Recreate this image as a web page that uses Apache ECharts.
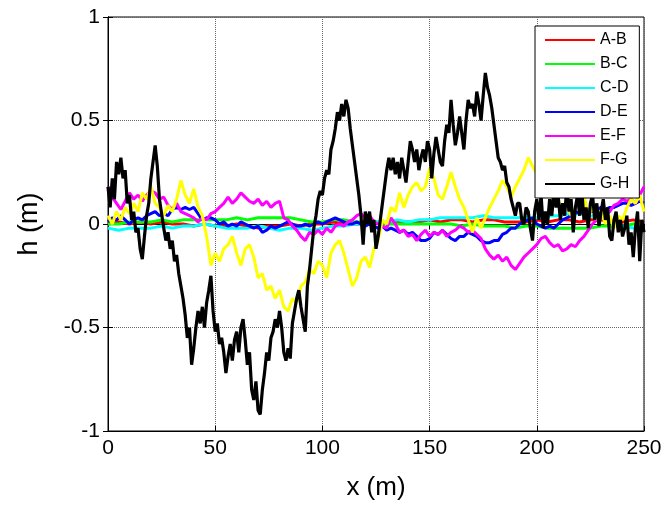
<!DOCTYPE html>
<html>
<head>
<meta charset="utf-8">
<script src="https://cdn.jsdelivr.net/npm/echarts@6/dist/echarts.min.js"></script>
<style>
  html, body { margin: 0; padding: 0; background: #fff; }
  #chart { width: 669px; height: 506px; }
</style>
</head>
<body>
<div id="chart"></div>
<script>
// profile names and colours, in the order they are plotted
var names = ['A-B', 'B-C', 'C-D', 'D-E', 'E-F', 'F-G', 'G-H'];
var colors = ['#ff0000', '#00ff00', '#00ffff', '#0000ff', '#ff00ff', '#ffff00', '#000000'];

// h (m) sampled every 5 m
var hAB = [0.00,0.01,0.00,0.01,0.00,0.01,0.00,0.00,-0.01,0.00,-0.01,-0.01,0.00,-0.01,-0.02,-0.01,-0.01,0.00,-0.01,0.00,
  0.00,0.01,0.00,0.00,0.00,0.01,0.00,0.01,0.01,0.01,0.02,0.01,0.02,0.02,0.01,0.02,0.02,0.01,0.01,0.01,
  0.02,0.01,0.02,0.02,0.01,0.02,0.02,0.01,0.01,0.02,0.01];
var hBC = [0.00,0.00,0.01,0.01,0.01,0.02,0.01,0.02,0.02,0.02,0.02,0.02,0.03,0.02,0.03,0.03,0.03,0.03,0.02,0.01,
  0.01,0.02,0.02,0.01,0.01,0.01,0.00,0.00,0.00,0.00,0.00,0.00,0.00,-0.01,0.00,-0.01,-0.01,-0.01,-0.02,-0.01,
  -0.01,-0.02,-0.02,-0.02,-0.02,-0.02,-0.01,-0.01,-0.01,0.00,0.00];
var hCD = [-0.02,-0.03,-0.02,-0.02,-0.02,-0.01,-0.02,-0.01,-0.01,0.00,-0.01,-0.02,-0.02,-0.02,-0.01,-0.02,-0.03,-0.02,-0.02,-0.03,
  -0.02,-0.01,-0.01,0.00,0.00,0.01,0.01,0.02,0.01,0.02,0.02,0.03,0.03,0.03,0.03,0.04,0.03,0.03,0.03,0.03,
  0.03,0.04,0.04,0.05,0.05,0.04,0.03,0.01,-0.01,-0.02,-0.01];

// h (m) sampled every 2 m
var hDE = [0.01,0.03,0.02,0.04,0.02,0.00,0.02,0.03,0.02,0.04,0.05,0.06,0.04,0.05,0.04,0.07,0.08,0.07,0.08,0.07,
  0.08,0.05,0.02,0.03,0.03,0.02,0.00,0.01,-0.01,0.00,-0.01,0.01,0.00,-0.01,-0.02,-0.01,-0.04,-0.03,-0.01,-0.02,
  -0.01,0.00,0.01,0.00,-0.01,-0.01,0.00,-0.01,0.00,0.01,0.00,0.01,0.02,0.03,0.02,0.01,0.00,0.00,0.01,0.00,
  -0.01,0.00,-0.01,-0.02,-0.01,-0.03,-0.02,-0.03,-0.04,-0.03,-0.05,-0.04,-0.06,-0.08,-0.08,-0.07,-0.04,-0.05,-0.03,-0.05,
  -0.07,-0.08,-0.06,-0.06,-0.04,-0.05,-0.06,-0.08,-0.09,-0.09,-0.08,-0.08,-0.05,-0.04,-0.02,-0.02,0.00,0.01,0.02,0.03,
  0.00,-0.01,-0.02,-0.01,-0.02,0.00,0.02,0.03,0.04,0.06,0.05,0.06,0.07,0.06,0.07,0.08,0.07,0.08,0.08,0.09,
  0.10,0.10,0.09,0.10,0.11,0.10];
var hEF = [0.18,0.13,0.10,0.07,0.11,0.15,0.12,0.14,0.11,0.14,0.16,0.15,0.12,0.13,0.09,0.07,0.10,0.06,0.05,0.04,
  0.03,0.01,0.03,0.02,0.05,0.06,0.08,0.10,0.13,0.10,0.12,0.15,0.13,0.11,0.10,0.12,0.09,0.11,0.08,0.10,
  0.11,0.03,0.02,-0.01,-0.03,-0.06,-0.08,-0.04,-0.05,-0.03,-0.05,-0.02,-0.04,-0.01,0.00,-0.01,0.01,0.02,0.04,0.05,
  0.03,0.04,0.01,0.00,-0.01,-0.02,0.03,0.00,-0.04,-0.03,-0.06,-0.05,-0.08,-0.05,-0.03,-0.06,-0.04,-0.05,-0.03,-0.06,
  -0.04,-0.03,-0.01,-0.02,-0.04,-0.03,-0.05,-0.07,-0.12,-0.15,-0.17,-0.15,-0.18,-0.16,-0.20,-0.22,-0.19,-0.16,-0.14,-0.12,
  -0.10,-0.07,-0.06,-0.09,-0.11,-0.10,-0.13,-0.12,-0.10,-0.11,-0.08,-0.06,-0.03,0.00,0.02,0.03,0.05,0.06,0.09,0.10,
  0.12,0.11,0.12,0.10,0.14,0.18];
var hFG = [0.04,0.00,0.06,0.02,0.08,0.05,0.10,0.06,0.15,0.12,0.18,0.10,0.08,0.04,0.09,0.06,0.12,0.21,0.14,0.10,
  0.17,0.08,0.04,-0.06,-0.20,-0.14,-0.18,-0.12,-0.10,-0.06,-0.14,-0.20,-0.12,-0.10,-0.16,-0.26,-0.24,-0.32,-0.30,-0.36,
  -0.32,-0.40,-0.42,-0.36,-0.38,-0.30,-0.28,-0.22,-0.24,-0.18,-0.20,-0.26,-0.14,-0.10,-0.08,-0.14,-0.22,-0.30,-0.26,-0.18,
  -0.16,-0.21,-0.12,-0.08,0.02,0.00,0.08,0.06,0.15,0.08,0.14,0.18,0.20,0.16,0.18,0.27,0.22,0.14,0.12,0.18,
  0.25,0.18,0.12,0.08,0.02,-0.04,0.03,-0.02,0.03,0.08,0.12,0.16,0.21,0.18,0.13,0.18,0.22,0.26,0.32,0.28,
  0.24,0.20,0.14,0.16,0.10,0.12,0.06,0.10,0.04,0.08,0.12,0.14,0.04,0.08,0.02,0.06,0.00,0.04,-0.02,0.04,
  0.02,0.08,0.12,0.10,0.14,0.06];

// h (m) sampled every 1 m
var hGH = [0.18,0.08,0.22,0.12,0.30,0.24,0.32,0.22,0.26,0.10,
  0.14,0.02,0.06,-0.04,-0.02,-0.12,-0.17,-0.06,0.04,0.10,
  0.22,0.30,0.38,0.28,0.12,0.05,-0.02,-0.08,-0.04,-0.12,
  -0.08,-0.18,-0.15,-0.24,-0.30,-0.36,-0.44,-0.55,-0.50,-0.68,
  -0.60,-0.50,-0.42,-0.48,-0.40,-0.50,-0.38,-0.32,-0.25,-0.42,
  -0.52,-0.48,-0.58,-0.55,-0.62,-0.72,-0.64,-0.58,-0.66,-0.56,
  -0.52,-0.62,-0.50,-0.46,-0.56,-0.68,-0.62,-0.80,-0.85,-0.76,
  -0.90,-0.92,-0.80,-0.72,-0.62,-0.66,-0.55,-0.52,-0.46,-0.50,
  -0.42,-0.50,-0.62,-0.66,-0.60,-0.65,-0.48,-0.42,-0.36,-0.32,
  -0.40,-0.46,-0.52,-0.30,-0.22,-0.12,-0.02,0.04,0.12,0.16,
  0.14,0.22,0.26,0.24,0.36,0.40,0.46,0.54,0.50,0.58,
  0.52,0.60,0.56,0.46,0.38,0.30,0.22,0.14,0.04,-0.10,
  0.06,0.00,0.06,-0.04,0.02,-0.12,-0.06,0.02,0.10,0.18,
  0.26,0.32,0.26,0.32,0.24,0.30,0.22,0.32,0.26,0.20,
  0.30,0.40,0.36,0.30,0.36,0.26,0.32,0.36,0.30,0.40,
  0.36,0.22,0.34,0.42,0.36,0.30,0.28,0.40,0.48,0.44,
  0.60,0.48,0.38,0.44,0.52,0.44,0.36,0.50,0.60,0.56,
  0.58,0.52,0.64,0.58,0.50,0.62,0.73,0.66,0.62,0.56,
  0.48,0.40,0.32,0.30,0.26,0.28,0.20,0.18,0.12,0.08,
  0.04,0.10,0.10,0.02,0.00,0.08,0.06,-0.02,-0.08,0.06,
  0.12,0.02,0.14,-0.02,0.06,0.00,0.12,0.04,0.16,0.08,
  0.13,0.02,0.10,0.04,0.18,0.06,0.12,-0.04,0.08,0.14,
  0.04,0.16,0.02,0.08,-0.02,0.10,0.14,0.02,0.10,-0.01,
  0.06,0.12,0.02,0.08,-0.06,-0.08,0.02,0.06,-0.04,0.02,
  -0.06,-0.02,0.04,-0.10,-0.04,-0.16,-0.02,0.06,-0.18,0.02,
  -0.04];

var profiles = [hAB, hBC, hCD, hDE, hEF, hFG, hGH];
var steps = [5, 5, 5, 2, 2, 2, 1];

var chart = echarts.init(document.getElementById('chart'));

function toPairs(arr, dx) {
  return arr.map(function (h, i) { return [i * dx, h]; });
}

var series = profiles.map(function (arr, k) {
  return {
    name: names[k],
    type: 'line',
    data: toPairs(arr, steps[k]),
    showSymbol: false,
    lineStyle: { color: colors[k], width: k == 6 ? 3.2 : 3 },
    itemStyle: { color: colors[k] }
  };
});

var font = 'Liberation Sans, Arial, sans-serif';

var option = {
  animation: false,
  backgroundColor: '#fff',
  grid: {
    left: 108, top: 17, right: 25, bottom: 74,
    show: true, borderColor: '#000', borderWidth: 1
  },
  legend: {
    data: names,
    orient: 'vertical',
    left: 535, top: 26,
    padding: [6, 10, 6, 10],
    backgroundColor: '#fff',
    borderColor: '#000',
    borderWidth: 1,
    borderRadius: 0,
    icon: 'rect',
    itemWidth: 50,
    itemHeight: 2,
    itemGap: 8,
    textStyle: { fontFamily: font, fontSize: 16, color: '#000', lineHeight: 16 }
  },
  xAxis: [{
    type: 'value', min: 0, max: 250, interval: 50,
    name: 'x (m)', nameLocation: 'middle', nameGap: 44,
    nameTextStyle: { fontFamily: font, fontSize: 26, color: '#000' },
    axisLine: { show: true, onZero: false, lineStyle: { color: '#000' } },
    axisTick: { inside: true, length: 5, lineStyle: { color: '#000' } },
    axisLabel: { fontFamily: font, fontSize: 21, color: '#000', margin: 7 },
    splitLine: { show: true, lineStyle: { color: '#666', type: 'dotted', width: 1 } }
  }, {
    type: 'value', min: 0, max: 250, interval: 50, position: 'top',
    axisLine: { show: true, lineStyle: { color: '#000' } },
    axisTick: { inside: true, length: 5, lineStyle: { color: '#000' } },
    axisLabel: { show: false },
    splitLine: { show: false }
  }],
  yAxis: [{
    type: 'value', min: -1, max: 1, interval: 0.5,
    name: 'h (m)', nameLocation: 'middle', nameGap: 65,
    nameTextStyle: { fontFamily: font, fontSize: 27, color: '#000' },
    axisLine: { show: true, onZero: false, lineStyle: { color: '#000' } },
    axisTick: { show: true, inside: true, length: 5, lineStyle: { color: '#000' } },
    axisLabel: { fontFamily: font, fontSize: 21, color: '#000', margin: 8 },
    splitLine: { show: true, lineStyle: { color: '#666', type: 'dotted', width: 1 } }
  }, {
    type: 'value', min: -1, max: 1, interval: 0.5, position: 'right',
    axisLine: { show: true, lineStyle: { color: '#000' } },
    axisTick: { show: true, inside: true, length: 5, lineStyle: { color: '#000' } },
    axisLabel: { show: false },
    splitLine: { show: false }
  }],
  series: series
};

chart.setOption(option);
</script>
</body>
</html>
